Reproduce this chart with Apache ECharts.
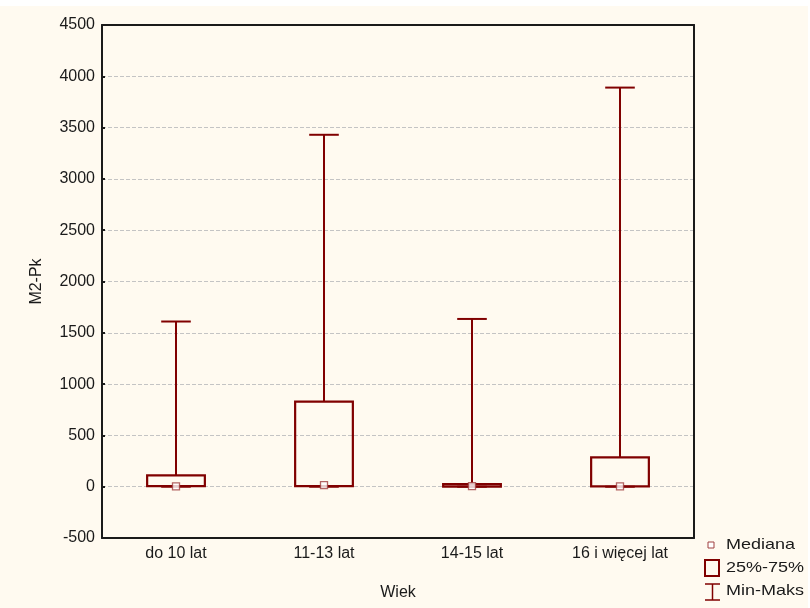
<!DOCTYPE html>
<html>
<head>
<meta charset="utf-8">
<script src="https://cdn.jsdelivr.net/npm/echarts@6/dist/echarts.min.js"></script>
<style>
html,body{margin:0;padding:0;background:#ffffff;}
#main{width:810px;height:608px;}
</style>
</head>
<body>
<div id="main"></div>
<script>
// Data
var categories = ['do 10 lat', '11-13 lat', '14-15 lat', '16 i więcej lat'];
var minValues    = [0, 0, 0, 0];
var q1Values     = [5, 5, 0, 3];
var medianValues = [3, 15, 5, 3];
var q3Values     = [110, 830, 25, 285];
var maxValues    = [1610, 3430, 1635, 3890];
var yTicks = { min: -500, max: 4500, interval: 500 };

var boxData = categories.map(function (c, i) {
  return [i, minValues[i], q1Values[i], medianValues[i], q3Values[i], maxValues[i]];
});
var medianData = categories.map(function (c, i) { return [i, medianValues[i]]; });

var RED = '#800000';
var FONT = 'Liberation Sans, Arial, sans-serif';

function renderBox(params, api) {
  var idx = api.value(0);
  var pMin = api.coord([idx, api.value(1)]);
  var pQ1 = api.coord([idx, api.value(2)]);
  var pQ3 = api.coord([idx, api.value(4)]);
  var pMax = api.coord([idx, api.value(5)]);
  var band = api.size([1, 0])[0];
  var boxW = band * 0.39;
  var capW = band * 0.2;
  var x = pQ1[0];
  var style = { stroke: RED, lineWidth: 2, fill: null };
  return {
    type: 'group',
    children: [
      { type: 'line', shape: { x1: x, y1: pQ3[1], x2: x, y2: pMax[1] }, style: style },
      { type: 'line', shape: { x1: x - capW / 2, y1: pMax[1], x2: x + capW / 2, y2: pMax[1] }, style: style },
      { type: 'line', shape: { x1: x, y1: pQ1[1], x2: x, y2: pMin[1] }, style: style },
      { type: 'line', shape: { x1: x - capW / 2, y1: pMin[1], x2: x + capW / 2, y2: pMin[1] }, style: style },
      { type: 'rect', shape: { x: x - boxW / 2, y: pQ3[1], width: boxW, height: Math.max(pQ1[1] - pQ3[1], 0.5) },
        style: { stroke: RED, lineWidth: 2.2, fill: 'rgba(0,0,0,0)' } }
    ]
  };
}

var chart = echarts.init(document.getElementById('main'), null, { renderer: 'canvas' });
var axisLineStyle = { color: '#1a1a1a', width: 2 };
var option = {
  backgroundColor: '#ffffff',
  animation: false,
  graphic: [
    { type: 'rect', z: -100, silent: true, shape: { x: 0, y: 6, width: 808, height: 602 }, style: { fill: '#fffaf0' } },
    // legend: Mediana
    { type: 'rect', shape: { x: 708, y: 542, width: 6, height: 6 }, style: { fill: '#ffffff', stroke: '#a04040', lineWidth: 1 } },
    { type: 'text', x: 726, y: 545, scaleX: 1.2, style: { text: 'Mediana', font: '15px ' + FONT, fill: '#1a1a1a', verticalAlign: 'middle' } },
    // legend: 25%-75%
    { type: 'rect', shape: { x: 705, y: 560, width: 14, height: 16 }, style: { fill: 'rgba(0,0,0,0)', stroke: RED, lineWidth: 2 } },
    { type: 'text', x: 726, y: 568, scaleX: 1.2, style: { text: '25%-75%', font: '15px ' + FONT, fill: '#1a1a1a', verticalAlign: 'middle' } },
    // legend: Min-Maks
    { type: 'line', shape: { x1: 705, y1: 584, x2: 720, y2: 584 }, style: { stroke: RED, lineWidth: 1.5 } },
    { type: 'line', shape: { x1: 712.5, y1: 584, x2: 712.5, y2: 600 }, style: { stroke: RED, lineWidth: 1.5 } },
    { type: 'line', shape: { x1: 705, y1: 600, x2: 720, y2: 600 }, style: { stroke: RED, lineWidth: 1.5 } },
    { type: 'text', x: 726, y: 591, scaleX: 1.2, style: { text: 'Min-Maks', font: '15px ' + FONT, fill: '#1a1a1a', verticalAlign: 'middle' } }
  ],
  grid: { left: 102, right: 116, top: 25, bottom: 70, containLabel: false },
  xAxis: [
    {
      type: 'category', data: categories, position: 'bottom',
      name: 'Wiek', nameLocation: 'middle', nameGap: 47,
      nameTextStyle: { fontFamily: FONT, fontSize: 16, color: '#1a1a1a' },
      axisLine: { onZero: false, lineStyle: axisLineStyle },
      axisTick: { inside: true, length: 3, alignWithLabel: true, lineStyle: { color: '#1a1a1a', width: 2 } },
      axisLabel: { fontFamily: FONT, fontSize: 16, color: '#1a1a1a', margin: 8 },
      splitLine: { show: false }
    },
    {
      type: 'category', data: categories, position: 'top',
      axisLine: { onZero: false, lineStyle: axisLineStyle },
      axisTick: { inside: true, length: 3, alignWithLabel: true, lineStyle: { color: '#1a1a1a', width: 2 } },
      axisLabel: { show: false },
      splitLine: { show: false }
    }
  ],
  yAxis: [
    {
      type: 'value', min: yTicks.min, max: yTicks.max, interval: yTicks.interval,
      name: 'M2-Pk', nameLocation: 'middle', nameGap: 57, nameRotate: 90,
      nameTextStyle: { fontFamily: FONT, fontSize: 16, color: '#1a1a1a' },
      axisLine: { show: true, onZero: false, lineStyle: axisLineStyle },
      axisTick: { show: true, inside: true, length: 3, lineStyle: { color: '#1a1a1a', width: 2 } },
      axisLabel: { fontFamily: FONT, fontSize: 16, color: '#1a1a1a', margin: 7,
        formatter: function (v) { return String(v); } },
      splitLine: { show: true, lineStyle: { color: '#c4c4c4', width: 1, type: [4, 2] } }
    },
    {
      type: 'value', min: yTicks.min, max: yTicks.max, interval: yTicks.interval, position: 'right',
      axisLine: { show: true, onZero: false, lineStyle: axisLineStyle },
      axisTick: { show: false }, axisLabel: { show: false }, splitLine: { show: false }
    }
  ],
  series: [
    {
      type: 'custom', renderItem: renderBox, data: boxData,
      encode: { x: 0, y: [1, 2, 3, 4, 5] }, z: 3
    },
    {
      type: 'scatter', data: medianData, symbol: 'rect', symbolSize: 7, z: 4,
      itemStyle: { color: '#ffffff', borderColor: '#a04040', borderWidth: 1.3 }
    }
  ]
};
chart.setOption(option);
</script>
</body>
</html>
